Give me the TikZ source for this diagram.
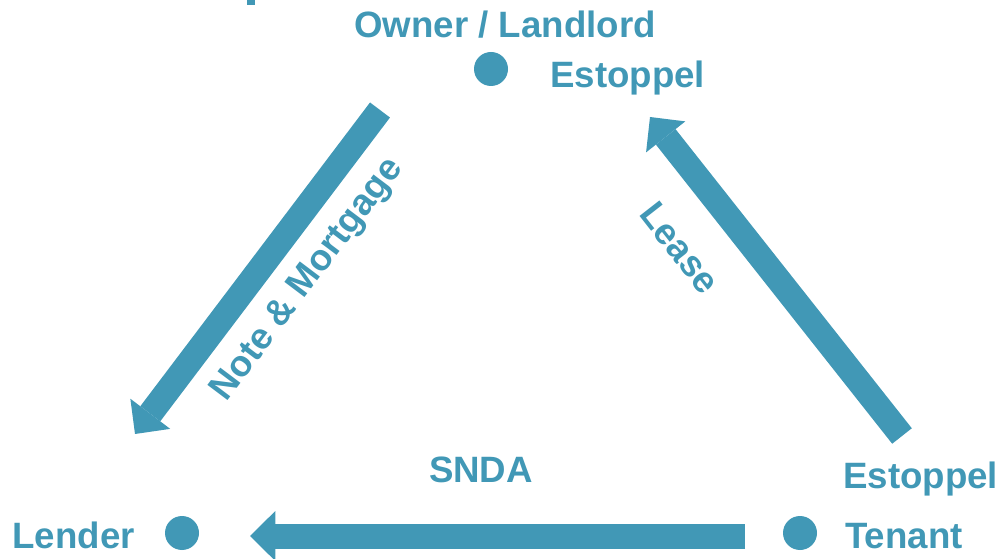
\documentclass[tikz,border=0pt]{standalone}
\usepackage{fontspec}
\setmainfont{Liberation Sans}
\usetikzlibrary{arrows.meta,positioning}
\definecolor{dealteal}{HTML}{4198B6}

\begin{document}
\begin{tikzpicture}[x=0.75pt, y=-0.75pt,
    party/.style={circle, fill=dealteal, minimum size=25.5pt, inner sep=0pt},
    lbl/.style={text=dealteal, font=\fontsize{27.5}{33}\selectfont\bfseries, inner sep=0pt},
    flow/.style={-{Triangle[length=19pt,width=37.5pt,line width=0pt]}, line width=18.75pt, draw=dealteal}]
\useasboundingbox (0,0) rectangle (1003,559);
% cut-off title stroke at the top edge
\fill[dealteal] (247,0) rectangle (255,5);
% the three parties
\node[party] (owner) at (491,69) {};
\node[party] (lender) at (182,533) {};
\node[party] (tenant) at (800,533) {};
\node[lbl, anchor=base] (ownerlbl) at (505,38) {Owner / Landlord};
\node[lbl, anchor=base west] (ownerest) at (550,88) {Estoppel};
\node[lbl, anchor=base east] (lenderlbl) at (135,548) {Lender};
\node[lbl, anchor=base west] (tenantlbl) at (845,548) {Tenant};
\node[lbl, anchor=base west] (tenantest) at (843,488) {Estoppel};
% arrow ends
\coordinate (noteA) at (380,110);
\coordinate (noteB) at (135,434);
\coordinate (leaseA) at (902,436);
\coordinate (leaseB) at (650,117);
\coordinate (sndaA) at (745,536);
\coordinate (sndaB) at (250,536);
\draw[flow] (noteA) -- (noteB);
\draw[flow] (leaseA) -- (leaseB);
\draw[flow] (sndaA) -- (sndaB);
\node[lbl, rotate=53] (notelbl) at (308,280) {Note \& Mortgage};
\node[lbl, rotate=-52] (leaselbl) at (680,248) {Lease};
\node[lbl, anchor=base] (sndalbl) at (481,482) {SNDA};
\end{tikzpicture}
\end{document}
